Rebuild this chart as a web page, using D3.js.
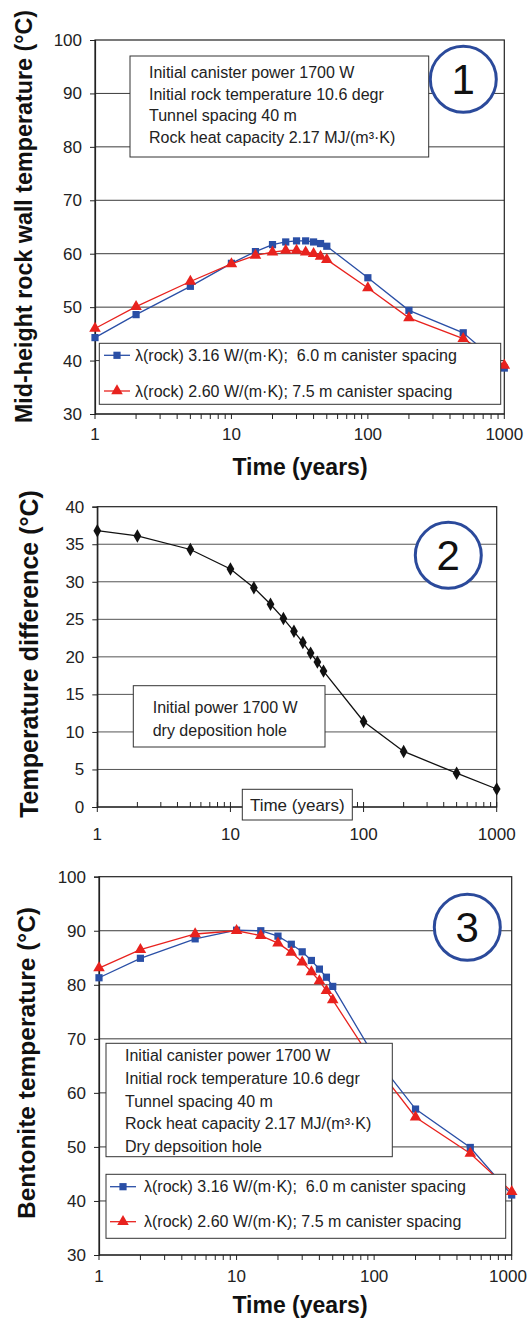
<!DOCTYPE html>
<html>
<head>
<meta charset="utf-8">
<script src="https://cdn.jsdelivr.net/npm/d3@7/dist/d3.min.js"></script>
<style>
  html, body { margin: 0; padding: 0; background: #fff; }
  svg { display: block; font-family: "Liberation Sans", Arial, sans-serif; }
  text { white-space: pre; }
</style>
</head>
<body>
<svg id="chart" width="529" height="1322"></svg>
<script>
// Simulation times (years) shared by all three panels
const years = [1, 2, 5, 10, 15, 20, 25, 30, 35, 40, 45, 50, 100, 200, 500, 1000];

// Panel 1: mid-height rock wall temperature (°C)
const wallHighK = [44.3, 48.6, 53.9, 58.2, 60.4, 61.7, 62.2, 62.4, 62.4, 62.2, 61.9, 61.4, 55.5, 49.4, 45.2, 38.6];
const wallLowK  = [46.0, 50.1, 54.8, 58.1, 59.7, 60.3, 60.6, 60.6, 60.3, 60.0, 59.5, 58.9, 53.6, 48.0, 44.1, 39.1];

// Panel 2: temperature difference (°C)
const tempDiff = [36.8, 36.1, 34.3, 31.7, 29.2, 27.0, 25.1, 23.4, 21.9, 20.5, 19.3, 18.1, 11.4, 7.4, 4.5, 2.4];

// Panel 3: bentonite temperature (°C)
const bentHighK = [81.3, 84.9, 88.5, 90.1, 90.0, 89.0, 87.5, 86.1, 84.5, 82.9, 81.4, 79.7, 66.8, 57.0, 49.9, 41.1];
const bentLowK  = [83.1, 86.5, 89.4, 90.0, 89.1, 87.7, 86.0, 84.2, 82.4, 80.7, 78.9, 77.2, 65.4, 55.5, 48.8, 41.7];

// Axis ticks
const timeTickLabels = [1, 10, 100, 1000];
const tempTicks = [30, 40, 50, 60, 70, 80, 90, 100];
const diffTicks = [0, 5, 10, 15, 20, 25, 30, 35, 40];

// Series names and annotation texts
const seriesNames = [
  "λ(rock) 3.16 W/(m·K);  6.0 m canister spacing",
  "λ(rock) 2.60 W/(m·K); 7.5 m canister spacing"
];
const notes1 = [
  "Initial canister power 1700 W",
  "Initial rock temperature 10.6 degr",
  "Tunnel spacing 40 m",
  "Rock heat capacity 2.17 MJ/(m³·K)"
];
const notes2 = ["Initial power 1700 W", "dry deposition hole"];
const notes3 = [
  "Initial canister power 1700 W",
  "Initial rock temperature 10.6 degr",
  "Tunnel spacing 40 m",
  "Rock heat capacity 2.17 MJ/(m³·K)",
  "Dry depsoition hole"
];

const BLUE = "#2a4fa6";
const RED = "#e8221e";
const RING = "#2b4a9b";
const GRID = "#3a3a3a";
const TEXT = "#222";

const svg = d3.select("#chart");

// minor tick values for a log time axis 1..1000
const minorTicks = [];
for (let d = 1; d <= 100; d *= 10) for (let k = 1; k < 10; k++) minorTicks.push(d * k);
minorTicks.push(1000);

function panel(cfg) {
  const g = svg.append("g");
  const x = d3.scaleLog().domain([1, 1000]).range([cfg.left, cfg.right]);
  const y = d3.scaleLinear().domain(cfg.yDomain).range([cfg.bottom, cfg.top]);

  // horizontal gridlines
  g.append("g").selectAll("line").data(cfg.yTicks.slice(1, -1)).join("line")
    .attr("x1", cfg.left).attr("x2", cfg.right)
    .attr("y1", d => y(d)).attr("y2", d => y(d))
    .attr("stroke", cfg.gridColor || GRID).attr("stroke-width", 1);

  // plot frame
  g.append("rect")
    .attr("x", cfg.left).attr("y", cfg.top)
    .attr("width", cfg.right - cfg.left).attr("height", cfg.bottom - cfg.top)
    .attr("fill", "none").attr("stroke", "#222").attr("stroke-width", 1.2);

  // y axis
  const yAxis = d3.axisLeft(y).tickValues(cfg.yTicks).tickSize(5).tickPadding(8);
  const ya = g.append("g").attr("transform", `translate(${cfg.left},0)`).call(yAxis);
  ya.select(".domain").attr("stroke", "#222").attr("stroke-width", 1.2);
  ya.selectAll(".tick line").attr("stroke", "#222");
  ya.selectAll(".tick text").attr("font-size", 17).attr("fill", TEXT)
    .attr("font-family", "Liberation Sans, Arial, sans-serif");

  // x axis (log, minor ticks at every integer multiple)
  const xa = g.append("g").attr("transform", `translate(0,${cfg.bottom})`);
  xa.append("line").attr("x1", cfg.left).attr("x2", cfg.right)
    .attr("stroke", "#222").attr("stroke-width", 1.2);
  xa.selectAll("line.tk").data(minorTicks).join("line").attr("class", "tk")
    .attr("x1", d => x(d)).attr("x2", d => x(d))
    .attr("y1", d => cfg.ticksInside ? (timeTickLabels.includes(d) ? 5 : 0) : 0)
    .attr("y2", d => cfg.ticksInside ? -5 : 5)
    .attr("stroke", "#222");
  xa.selectAll("text").data(timeTickLabels).join("text")
    .attr("x", d => Math.min(x(d), cfg.maxLabelX || 1e9)).attr("y", cfg.xLabelOffset)
    .attr("text-anchor", "middle").attr("font-size", 17).attr("fill", TEXT)
    .text(d => d);

  // y axis title
  svg.append("text")
    .attr("transform", `translate(${cfg.yTitleX},${cfg.yTitleY}) rotate(-90)`)
    .attr("text-anchor", "middle").attr("font-weight", "bold")
    .attr("font-size", cfg.yTitleSize).attr("fill", "#111")
    .text(cfg.yTitle);

  return { g, x, y };
}

const sym = {
  square: d3.symbol().type(d3.symbolSquare).size(52),
  triangle: d3.symbol().type(d3.symbolTriangle).size(58),
  diamond: d3.symbol().type(d3.symbolDiamond).size(52)
};

function series(p, values, color, shape) {
  const pts = years.map((t, i) => [t, values[i]]);
  p.g.append("path").datum(pts)
    .attr("fill", "none").attr("stroke", color).attr("stroke-width", 1.3)
    .attr("d", d3.line().x(d => p.x(d[0])).y(d => p.y(d[1])));
  p.g.append("g").selectAll("path").data(pts).join("path")
    .attr("transform", d => `translate(${p.x(d[0])},${p.y(d[1])})`)
    .attr("d", sym[shape]).attr("fill", color);
}

function noteBox(p, box, lines, lineStep, fontSize) {
  const g = p.g.append("g");
  g.append("rect").attr("x", box.x).attr("y", box.y).attr("width", box.w).attr("height", box.h)
    .attr("fill", "#fff").attr("stroke", "#333").attr("stroke-width", 1);
  g.selectAll("text").data(lines).join("text")
    .attr("x", box.tx).attr("y", (d, i) => box.ty + i * lineStep)
    .attr("font-size", fontSize).attr("fill", TEXT).text(d => d);
}

function legend(p, box) {
  const g = p.g.append("g");
  g.append("rect").attr("x", box.x).attr("y", box.y).attr("width", box.w).attr("height", box.h)
    .attr("fill", "#fff").attr("stroke", "#333").attr("stroke-width", 1);
  const items = [
    { name: seriesNames[0], color: BLUE, shape: "square", cy: box.y1 },
    { name: seriesNames[1], color: RED, shape: "triangle", cy: box.y2 }
  ];
  items.forEach(it => {
    g.append("line").attr("x1", box.lx).attr("x2", box.lx + 26)
      .attr("y1", it.cy).attr("y2", it.cy).attr("stroke", it.color).attr("stroke-width", 1.3);
    g.append("path").attr("transform", `translate(${box.lx + 13},${it.cy})`)
      .attr("d", sym[it.shape]).attr("fill", it.color);
    g.append("text").attr("x", box.tx).attr("y", it.cy + 5.7)
      .attr("font-size", 16).attr("fill", TEXT).text(it.name);
  });
}

function ring(p, cx, cy, label) {
  p.g.append("circle").attr("cx", cx).attr("cy", cy).attr("r", 33)
    .attr("fill", "#fff").attr("stroke", RING).attr("stroke-width", 3);
  p.g.append("text").attr("x", cx).attr("y", cy + 15)
    .attr("text-anchor", "middle").attr("font-size", 42).attr("fill", "#111").text(label);
}

function timeTitle(x, y) {
  svg.append("text").attr("x", x).attr("y", y).attr("text-anchor", "middle")
    .attr("font-weight", "bold").attr("font-size", 23).attr("fill", "#111")
    .text("Time (years)");
}

// ---- Panel 1: rock wall temperature
const p1 = panel({
  left: 95, right: 504.3, top: 40, bottom: 414, yDomain: [30, 100], yTicks: tempTicks,
  xLabelOffset: 26, yTitle: "Mid-height rock wall temperature (°C)",
  yTitleX: 32, yTitleY: 216.5, yTitleSize: 23.3
});
series(p1, wallHighK, BLUE, "square");
series(p1, wallLowK, RED, "triangle");
noteBox(p1, { x: 130, y: 56, w: 298.7, h: 101, tx: 149, ty: 78.4 }, notes1, 21.5, 16);
legend(p1, { x: 99.3, y: 343.3, w: 401.4, h: 61, y1: 355.3, y2: 391, lx: 104, tx: 135 });
ring(p1, 463.3, 79.3, "1");
timeTitle(300, 475);

// ---- Panel 2: temperature difference
const p2 = panel({
  left: 97.3, right: 496.7, top: 506.7, bottom: 807, yDomain: [0, 40], yTicks: diffTicks,
  xLabelOffset: 33, ticksInside: true, gridColor: "#555",
  yTitle: "Temperature difference (°C)", yTitleX: 38, yTitleY: 654, yTitleSize: 25
});
series(p2, tempDiff, "#111", "diamond");
noteBox(p2, { x: 133.3, y: 685.7, w: 191.7, h: 61.3, tx: 152.7, ty: 713 }, notes2, 22.7, 16);
ring(p2, 448.3, 555.3, "2");
// boxed axis title sitting on the time axis
p2.g.append("rect").attr("x", 242.3).attr("y", 789.3).attr("width", 110).attr("height", 30.7)
  .attr("fill", "#fff").attr("stroke", "#333").attr("stroke-width", 1);
p2.g.append("text").attr("x", 297.3).attr("y", 811).attr("text-anchor", "middle")
  .attr("font-size", 17).attr("fill", TEXT).text("Time (years)");

// ---- Panel 3: bentonite temperature
const p3 = panel({
  left: 99, right: 511.7, top: 876.7, bottom: 1255, yDomain: [30, 100], yTicks: tempTicks,
  xLabelOffset: 27, maxLabelX: 508, yTitle: "Bentonite temperature (°C)",
  yTitleX: 35, yTitleY: 1063, yTitleSize: 24.5
});
series(p3, bentHighK, BLUE, "square");
series(p3, bentLowK, RED, "triangle");
noteBox(p3, { x: 106, y: 1043.3, w: 286.3, h: 113.4, tx: 125, ty: 1060.7 }, notes3, 22.9, 16);
legend(p3, { x: 106, y: 1174.3, w: 399.7, h: 64, y1: 1186.7, y2: 1221.7, lx: 110, tx: 144 });
ring(p3, 467.3, 927.3, "3");
timeTitle(300, 1313);
</script>
</body>
</html>
